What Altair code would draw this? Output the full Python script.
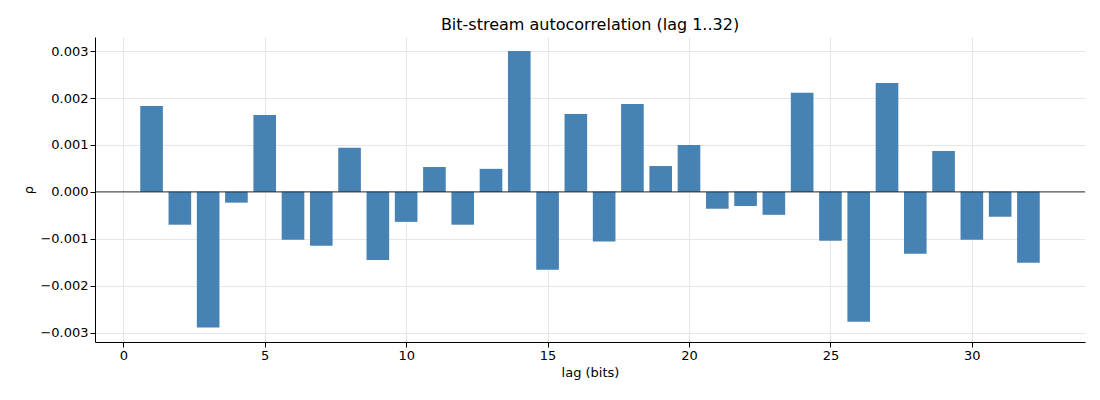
import altair as alt
import pandas as pd

lags = list(range(1, 33))
rho = [1.83e-3, -0.70e-3, -2.89e-3, -0.23e-3, 1.64e-3, -1.02e-3, -1.15e-3, 0.94e-3,
       -1.45e-3, -0.64e-3, 0.53e-3, -0.70e-3, 0.49e-3, 3.0e-3, -1.66e-3, 1.66e-3,
       -1.06e-3, 1.87e-3, 0.55e-3, 1.0e-3, -0.36e-3, -0.30e-3, -0.49e-3, 2.11e-3,
       -1.04e-3, -2.77e-3, 2.32e-3, -1.32e-3, 0.87e-3, -1.02e-3, -0.53e-3, -1.51e-3]

df = pd.DataFrame({"lag": lags, "rho": rho})
df["x0"] = df["lag"] - 0.4
df["x1"] = df["lag"] + 0.4
df["zero"] = 0.0

xs = alt.Scale(domain=[-1, 34], nice=False, zero=False)
ys = alt.Scale(domain=[-0.0032, 0.0033], nice=False)

bars = alt.Chart(df).mark_bar(color="#4682b4").encode(
    x=alt.X("x0:Q", scale=xs, title="lag (bits)",
            axis=alt.Axis(values=[0, 5, 10, 15, 20, 25, 30, 35], format="d")),
    x2="x1:Q",
    y=alt.Y("rho:Q", scale=ys, title="ρ",
            axis=alt.Axis(values=[-0.003, -0.002, -0.001, 0, 0.001, 0.002, 0.003], format=".3f")),
    y2="zero:Q",
)

zero = alt.Chart(pd.DataFrame({"z": [0.0]})).mark_rule(color="black", strokeWidth=0.8).encode(
    y=alt.Y("z:Q", scale=ys)
)

chart = alt.layer(bars, zero).properties(
    width=990, height=305,
    title=alt.Title("Bit-stream autocorrelation (lag 1..32)", fontSize=16, fontWeight="normal",
                    font="DejaVu Sans", color="black"),
    autosize=alt.AutoSizeParams(type="none"),
    padding={"left": 87, "top": 29, "right": 7, "bottom": 50},
).configure_axis(
    labelFont="DejaVu Sans", titleFont="DejaVu Sans", labelFontSize=13, titleFontSize=13,
    titleFontWeight="normal", labelColor="black", titleColor="black",
    gridColor="#e6e6e6", domainColor="black", tickColor="black",
).configure_view(stroke=None)

chart.save("out.html", embed_options={"renderer": "svg", "actions": False})
